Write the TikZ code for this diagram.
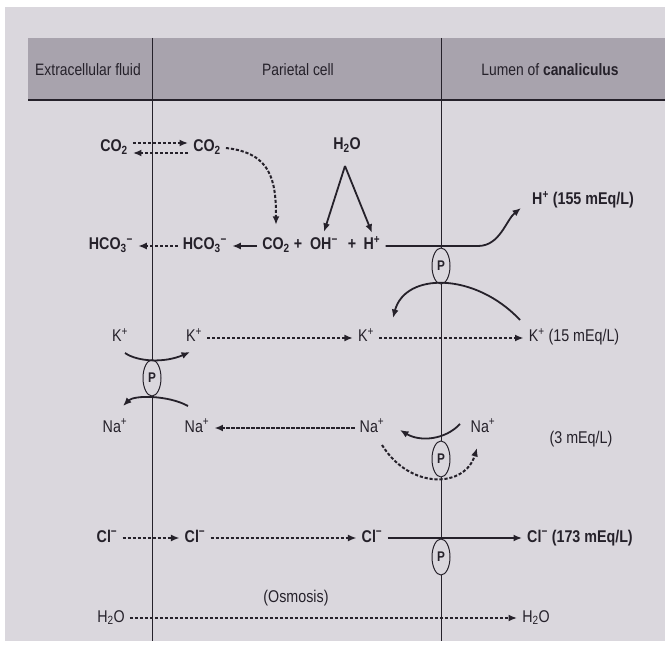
\documentclass[tikz,border=0pt]{standalone}
\usepackage{fontspec}
\setmainfont{Liberation Sans}[FakeStretch=0.84]
\usetikzlibrary{arrows.meta, shapes.geometric}
\definecolor{paper}{HTML}{DAD7DD}
\definecolor{band}{HTML}{A8A3AD}
\definecolor{ink}{HTML}{25212A}
\newcommand{\lblfont}{\fontsize{17}{19}\selectfont}

\begin{document}
\begin{tikzpicture}[x=1pt, y=-1pt,
    ion/.style={font=\lblfont\bfseries, text=ink, text height=12pt, text depth=4pt, inner xsep=5pt, inner ysep=1pt},
    ionlt/.style={ion, font=\lblfont},
    head/.style={font=\fontsize{16.5}{18}\selectfont, text=ink},
    pump/.style={draw=ink, ellipse, line width=1pt, fill=paper, minimum width=18pt, minimum height=36pt, inner sep=0pt, font=\fontsize{14}{15}\selectfont\bfseries, text=ink},
    arrow/.style={-{Latex[length=8.5pt, width=7pt]}, line width=1.8pt, draw=ink},
    dasharrow/.style={arrow, line width=2pt, dash pattern=on 3.2pt off 1.8pt},
    membrane/.style={draw=ink, line width=1pt}
  ]
  \useasboundingbox (0,0) rectangle (665,647);
  \fill[white] (0,0) rectangle (665,647);
  \fill[paper] (5,7) rectangle (665,641);
  \fill[band] (28,38) rectangle (665,100);
  \draw[ink, line width=2.5pt] (28,100) -- (665,100);
  \draw[membrane] (152,38) -- (152,641);
  \draw[membrane] (441,38) -- (441,641);

  \node[head] (hdrecf) at (88,70) {Extracellular fluid};
  \node[head] (hdrcell) at (298,70) {Parietal cell};
  \node[head] (hdrlumen) at (550,70) {Lumen of \textbf{canaliculus}};

  % CO2 / HCO3 / H2O
  \node[ion] (co2out) at (114,148) {CO\textsubscript{2}};
  \node[ion] (co2in) at (207,148) {CO\textsubscript{2}};
  \node[ion] (h2otop) at (347,146) {H\textsubscript{2}O};
  \coordinate (h2osplit) at (345,166);
  \node[ion] (hco3out) at (111,246) {HCO\textsubscript{3}\textsuperscript{−}};
  \node[ion] (hco3in) at (205,246) {HCO\textsubscript{3}\textsuperscript{−}};
  \node[ion] (co2r) at (276,246) {CO\textsubscript{2}};
  \node[ion] (plusa) at (298,246) {+};
  \node[ion] (oh) at (324,246) {OH\textsuperscript{−}};
  \node[ion] (plusb) at (352,246) {+};
  \node[ion] (hplus) at (372,246) {H\textsuperscript{+}};
  \node[ion] (hlumen) at (583,201) {H\textsuperscript{+} (155 mEq/L)};
  \coordinate (hbend) at (478,246);
  \coordinate (htip) at (521,208);

  % K+ / Na+
  \node[ionlt] (kout) at (120,338) {K\textsuperscript{+}};
  \node[ionlt] (kin) at (194,338) {K\textsuperscript{+}};
  \node[ionlt] (kcell) at (366,338) {K\textsuperscript{+}};
  \node[ionlt] (klumen) at (574,338) {K\textsuperscript{+} (15 mEq/L)};
  \node[ionlt] (naout) at (115,428) {Na\textsuperscript{+}};
  \node[ionlt] (nain) at (197,428) {Na\textsuperscript{+}};
  \node[ionlt] (nacell) at (372,428) {Na\textsuperscript{+}};
  \node[ionlt] (nalumen) at (483,428) {Na\textsuperscript{+}};
  \node[ionlt] (nameq) at (581,440) {(3 mEq/L)};

  % Cl- / H2O
  \node[ion] (clout) at (107,538) {Cl\textsuperscript{−}};
  \node[ion] (clin) at (195,538) {Cl\textsuperscript{−}};
  \node[ion] (clcell) at (372,538) {Cl\textsuperscript{−}};
  \node[ion] (cllumen) at (580,538) {Cl\textsuperscript{−} (173 mEq/L)};
  \node[ionlt] (osmosis) at (296,598) {(Osmosis)};
  \node[ionlt] (h2oout) at (111,618) {H\textsubscript{2}O};
  \node[ionlt] (h2olumen) at (536,618) {H\textsubscript{2}O};

  % pumps
  \node[pump] (pumph) at (441,266) {P};
  \node[pump] (pumpk) at (152,378) {P};
  \node[pump] (pumpna) at (441,459) {P};
  \node[pump] (pumpcl) at (441,557) {P};

  \draw[dasharrow] ([yshift=5pt]co2out.east) -- ([yshift=5pt]co2in.west);
  \draw[dasharrow] ([yshift=-5pt]co2in.west) -- ([yshift=-5pt]co2out.east);
  \draw[dasharrow] (co2in.east) .. controls +(45,5) and +(0,-45) .. ([yshift=12pt]co2r.north);
  \draw[arrow] (h2osplit) -- ([yshift=5pt]oh.north);
  \draw[arrow] (h2osplit) -- ([yshift=4pt]hplus.north);
  \draw[arrow] (co2r.west) -- (hco3in.east);
  \draw[dasharrow] (hco3in.west) -- (hco3out.east);
  \draw[arrow] (hplus.east) -- (hbend) .. controls +(22,0) and +(-15,12) .. (htip);
  \draw[arrow] (520,320) .. controls +(-45,-48) and +(12,-46) .. (393,318);

  \draw[dasharrow] (kin.east) -- (kcell.west);
  \draw[dasharrow] (kcell.east) -- (klumen.west);
  \draw[arrow] (125,353) .. controls (138,362) and (165,363) .. (190,352);
  \draw[arrow] (188,406) .. controls (168,395) and (134,395) .. (123,406);
  \draw[dasharrow] (nacell.west) -- (nain.east);
  \draw[arrow] (460,424) .. controls (445,440) and (420,442) .. (400,430);
  \draw[dasharrow] (382,445) .. controls (410,490) and (465,488) .. (477,448);

  \draw[dasharrow] (clout.east) -- (clin.west);
  \draw[dasharrow] (clin.east) -- (clcell.west);
  \draw[arrow] (clcell.east) -- (cllumen.west);
  \draw[dasharrow] (h2oout.east) -- (h2olumen.west);
\end{tikzpicture}
\end{document}
